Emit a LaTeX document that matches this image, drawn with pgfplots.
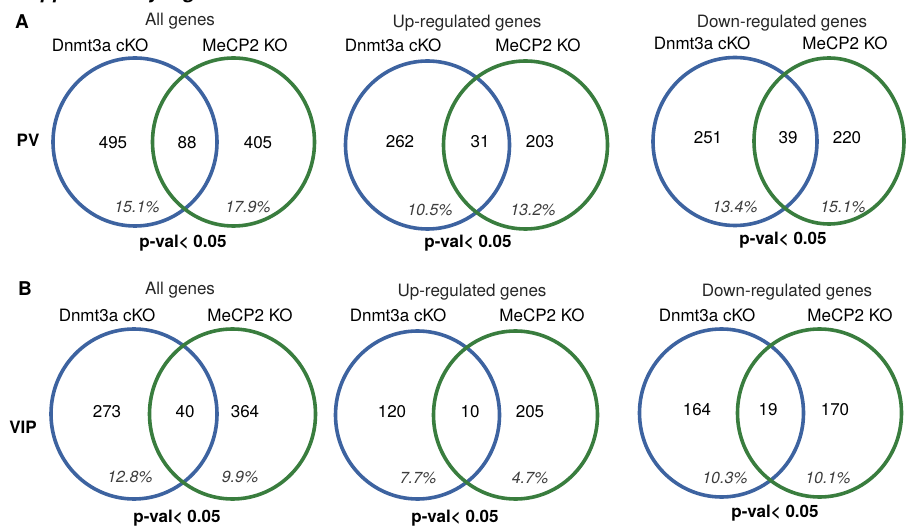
\documentclass[border=0pt]{standalone}
\usepackage{fontspec}
\setmainfont{TeX Gyre Heros}
\usepackage{pgfplots}
\pgfplotsset{compat=1.18}
\definecolor{vblue}{RGB}{61,99,160}
\definecolor{vgreen}{RGB}{57,125,62}
\definecolor{pgray}{RGB}{60,60,60}
\newcommand\fs{\fontsize{17}{20}\selectfont}
\newcommand\fp{\fontsize{16}{19}\selectfont\itshape}
\begin{document}
\begin{tikzpicture}
\useasboundingbox (0,0) rectangle (908pt,529pt);
\begin{axis}[
  x=1pt, y=1pt, xmin=0, xmax=908, ymin=0, ymax=529,
  y dir=reverse, hide axis, scale only axis, clip=false,
  at={(0,0)}, anchor=south west]

% ---- circles: blue = Dnmt3a cKO, green = MeCP2 KO
\draw[vblue, line width=3.6pt] (135,142) ellipse [x radius=82, y radius=84];
\draw[vblue, line width=3.6pt] (427.5,145) ellipse [x radius=82, y radius=84];
\draw[vblue, line width=3.6pt] (735,141.5) ellipse [x radius=82, y radius=84];
\draw[vblue, line width=3.6pt] (134,414) ellipse [x radius=83, y radius=85];
\draw[vblue, line width=3.6pt] (417.5,415) ellipse [x radius=82, y radius=84];
\draw[vblue, line width=3.6pt] (721.5,413) ellipse [x radius=82, y radius=84];
\draw[vgreen, line width=3.6pt] (233.5,142) ellipse [x radius=81, y radius=84];
\draw[vgreen, line width=3.6pt] (525.5,145) ellipse [x radius=82, y radius=84];
\draw[vgreen, line width=3.6pt] (829,141) ellipse [x radius=75, y radius=83];
\draw[vgreen, line width=3.6pt] (232.5,414) ellipse [x radius=83, y radius=85];
\draw[vgreen, line width=3.6pt] (515.5,415) ellipse [x radius=82, y radius=84];
\draw[vgreen, line width=3.6pt] (819.5,413) ellipse [x radius=82, y radius=84];

% ---- counts
\addplot[draw=none, mark=none, nodes near coords, point meta=explicit symbolic,
  every node near coord/.append style={anchor=center, font=\fs, text=black}]
  table[meta=label] {
x y label
113 143 495
187 143 88
258 143 405
400 142 262
480 142 31
540 142 203
708 138 251
788 138 39
847 138 220
107 412 273
185 412 40
245 412 364
392 412 120
470 412 10
530 412 205
697 410 164
768 410 19
835 410 170
};

% ---- percentages
\addplot[draw=none, mark=none, nodes near coords, point meta=explicit symbolic,
  every node near coord/.append style={anchor=center, font=\fp, text=pgray}]
  table[meta=label] {
x y label
137 207 15.1\%
248 207 17.9\%
430 210 10.5\%
533 210 13.2\%
735 207 13.4\%
843 207 15.1\%
130 477 12.8\%
240 477 9.9\%
418 478 7.7\%
530 478 4.7\%
725 478 10.3\%
828 478 10.1\%
};

% ---- titles and labels
\node[font=\fontsize{20}{24}\selectfont\bfseries\itshape, anchor=base west] at (12,-1) {Supplementary Figure 5};
\node[font=\fontsize{19}{22}\selectfont\bfseries] at (22,22) {A};
\node[font=\fontsize{19}{22}\selectfont\bfseries] at (25,289) {B};
\node[font=\fs\bfseries] at (28,140) {PV};
\node[font=\fs\bfseries] at (23,427) {VIP};

\node[font=\fs, text=black!85] at (180,21) {All genes};
\node[font=\fs, text=black!85] at (467,23) {Up-regulated genes};
\node[font=\fs, text=black!85] at (782,23) {Down-regulated genes};
\node[font=\fs, text=black!85] at (180,290) {All genes};
\node[font=\fs, text=black!85] at (472,292) {Up-regulated genes};
\node[font=\fs, text=black!85] at (787,292) {Down-regulated genes};

\node[font=\fs] at (100,45) {Dnmt3a cKO};
\node[font=\fs] at (245,45) {MeCP2 KO};
\node[font=\fs] at (393,45) {Dnmt3a cKO};
\node[font=\fs] at (538,45) {MeCP2 KO};
\node[font=\fs] at (702,43) {Dnmt3a cKO};
\node[font=\fs] at (845,43) {MeCP2 KO};
\node[font=\fs] at (107,315) {Dnmt3a cKO};
\node[font=\fs] at (250,315) {MeCP2 KO};
\node[font=\fs] at (398,315) {Dnmt3a cKO};
\node[font=\fs] at (542,315) {MeCP2 KO};
\node[font=\fs] at (707,315) {Dnmt3a cKO};
\node[font=\fs] at (850,315) {MeCP2 KO};

\node[font=\fs\bfseries] at (183,243) {p-val< 0.05};
\node[font=\fs\bfseries] at (468,243) {p-val< 0.05};
\node[font=\fs\bfseries] at (783,240) {p-val< 0.05};
\node[font=\fs\bfseries] at (177,518) {p-val< 0.05};
\node[font=\fs\bfseries] at (455,518) {p-val< 0.05};
\node[font=\fs\bfseries] at (775,513) {p-val< 0.05};
\end{axis}
\end{tikzpicture}
\end{document}
